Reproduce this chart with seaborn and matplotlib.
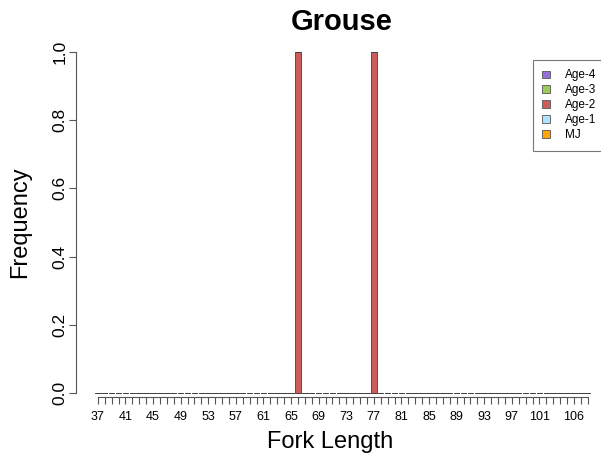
import numpy as np
import pandas as pd
import matplotlib
matplotlib.use('Agg')
import matplotlib.pyplot as plt
import seaborn as sns
from matplotlib.patches import Patch

# Data: fork length classes and frequency per age class
fork_length = list(range(37, 109))
age_classes = ['Age-4', 'Age-3', 'Age-2', 'Age-1', 'MJ']
age_colors = ['#9370DB', '#9BCB5A', '#CD5C5C', '#B0E2FF', '#FFA500']

# non-zero frequencies (every other length class is 0 for every age)
age2_lengths = [66, 77]
age2_freq = [1.0, 1.0]

# labels R keeps after dropping the overlapping ones
tick_labels_shown = [37, 41, 45, 49, 53, 57, 61, 65, 69, 73, 77, 81, 85, 89,
                     93, 97, 101, 106]

# long table: one row per length class and age
rows = []
for i, fl in enumerate(fork_length):
    for age in age_classes:
        w = 0.0
        if age == 'Age-2' and fl in age2_lengths:
            w = age2_freq[age2_lengths.index(fl)]
        rows.append({'pos': i, 'length': fl, 'age': age, 'freq': w})
df = pd.DataFrame(rows)

sns.set_style('white')
plt.rcParams['font.family'] = ['Liberation Sans', 'DejaVu Sans']
plt.rcParams['text.color'] = 'black'
plt.rcParams['xtick.labelcolor'] = 'black'
plt.rcParams['ytick.labelcolor'] = 'black'

W, H = 601, 461
fig = plt.figure(figsize=(W / 100, H / 100), dpi=100)

# axes placed in pixel terms to mimic the R plot region
px_per_cat = 6.9
x0_pix = 97.8            # centre of first bar
ax_left, ax_right = 76, 595
ax_top, ax_bot = 40, 397
y0_pix, y1_pix = 393.0, 52.0
ax = fig.add_axes([ax_left / W, 1 - ax_bot / H, (ax_right - ax_left) / W,
                   (ax_bot - ax_top) / H])

sns.histplot(data=df, x='pos', hue='age', weights='freq', hue_order=age_classes[::-1],
             palette=dict(zip(age_classes, age_colors)), multiple='stack',
             discrete=True, shrink=0.8, alpha=1, edgecolor='#404040',
             linewidth=0.6, legend=False, ax=ax)

ax.set_xlim((ax_left - x0_pix) / px_per_cat, (ax_right - x0_pix) / px_per_cat)
per_unit = y0_pix - y1_pix
ax.set_ylim(-(ax_bot - y0_pix) / per_unit, 1 + (y1_pix - ax_top) / per_unit)

# spines like R base graphics
for s in ['top', 'right']:
    ax.spines[s].set_visible(False)
ax.spines['left'].set_bounds(0, 1)
ax.spines['bottom'].set_bounds(0, len(fork_length) - 1)
for s in ['left', 'bottom']:
    ax.spines[s].set_color('#555555')
    ax.spines[s].set_linewidth(0.8)

ax.set_yticks([0, 0.2, 0.4, 0.6, 0.8, 1.0])
ax.set_yticklabels(['0.0', '0.2', '0.4', '0.6', '0.8', '1.0'], rotation=90,
                   va='center', fontsize=12.5)
ax.set_xticks(range(len(fork_length)))
ax.set_xticklabels([str(fl) if fl in tick_labels_shown else '' for fl in fork_length],
                   fontsize=9)
ax.tick_params(axis='both', direction='out', length=5, width=0.8, color='#555555',
               left=True, bottom=True)
ax.tick_params(axis='y', pad=1)
ax.tick_params(axis='x', pad=5)

ax.set_xlabel('')
ax.set_ylabel('')
ax.grid(False)

fig.text(342 / W, 1 - 22 / H, 'Grouse', ha='center', va='center', fontsize=21,
         fontweight='bold')
fig.text(20 / W, 1 - 222 / H, 'Frequency', ha='center', va='center', fontsize=17,
         rotation=90)
fig.text(330 / W, 1 - 442 / H, 'Fork Length', ha='center', va='center', fontsize=17)

handles = [Patch(facecolor=c, edgecolor='#555555', linewidth=0.6) for c in age_colors]
leg = fig.legend(handles, age_classes, loc='upper left',
                 bbox_to_anchor=(533 / W, 1 - 60 / H), fontsize=8.5, frameon=True,
                 fancybox=False, handlelength=0.6, handleheight=0.6,
                 handletextpad=1.3, labelspacing=0.25, borderpad=0.8,
                 borderaxespad=0)
leg.get_frame().set_edgecolor('#555555')
leg.get_frame().set_linewidth(0.8)

fig.savefig('out.png', dpi=100)
